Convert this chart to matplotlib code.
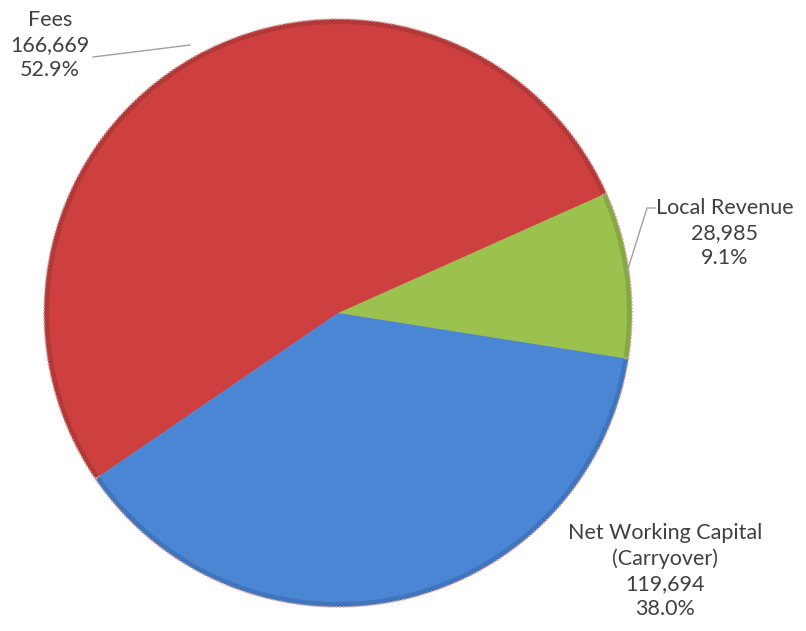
import matplotlib
matplotlib.use("Agg")
import matplotlib.pyplot as plt

labels = ["Local Revenue", "Fees", "Net Working Capital\n(Carryover)"]
values = [28985, 166669, 119694]
pct_labels = ["9.1%", "52.9%", "38.0%"]
val_labels = ["28,985", "166,669", "119,694"]
colors_main = ["#9BC14E", "#CE3F3F", "#4A86D4"]
colors_dark = ["#86A844", "#B33838", "#3F75BC"]

W, H = 806, 631
fig = plt.figure(figsize=(W / 100, H / 100), dpi=100)
ax = fig.add_axes([0, 0, 1, 1])

cx, cy = 338, H - 313
R = 294
start = -9.0

ax.pie(values, colors=colors_dark, startangle=start, counterclock=True,
       center=(cx, cy), radius=R, frame=True,
       wedgeprops=dict(edgecolor="#D9A0A0", linewidth=1.2, linestyle=(0, (1, 1))))
ax.pie(values, colors=colors_main, startangle=start, counterclock=True,
       center=(cx, cy), radius=R - 5, frame=True,
       wedgeprops=dict(edgecolor="none", linewidth=0))
ax.set_xlim(0, W)
ax.set_ylim(0, H)
ax.set_aspect("equal")
ax.axis("off")

font = dict(family=["Lato", "DejaVu Sans"], fontsize=15.5, color="#404040",
            ha="center", va="center", linespacing=1.32)

# Fees
ax.text(50, H - 45, f"Fees\n{val_labels[1]}\n{pct_labels[1]}", **font)
ax.plot([93, 190], [H - 57, H - 45], color="#A0A0A0", lw=1)
# Local Revenue
ax.text(725, H - 233, f"{labels[0]}\n{val_labels[0]}\n{pct_labels[0]}", **font)
ax.plot([655, 647, 627], [H - 208, H - 208, H - 272], color="#A0A0A0", lw=1)
# NWC
ax.text(665, H - 571, f"{labels[2]}\n{val_labels[2]}\n{pct_labels[2]}", **font)

fig.savefig("out.png", dpi=100)
